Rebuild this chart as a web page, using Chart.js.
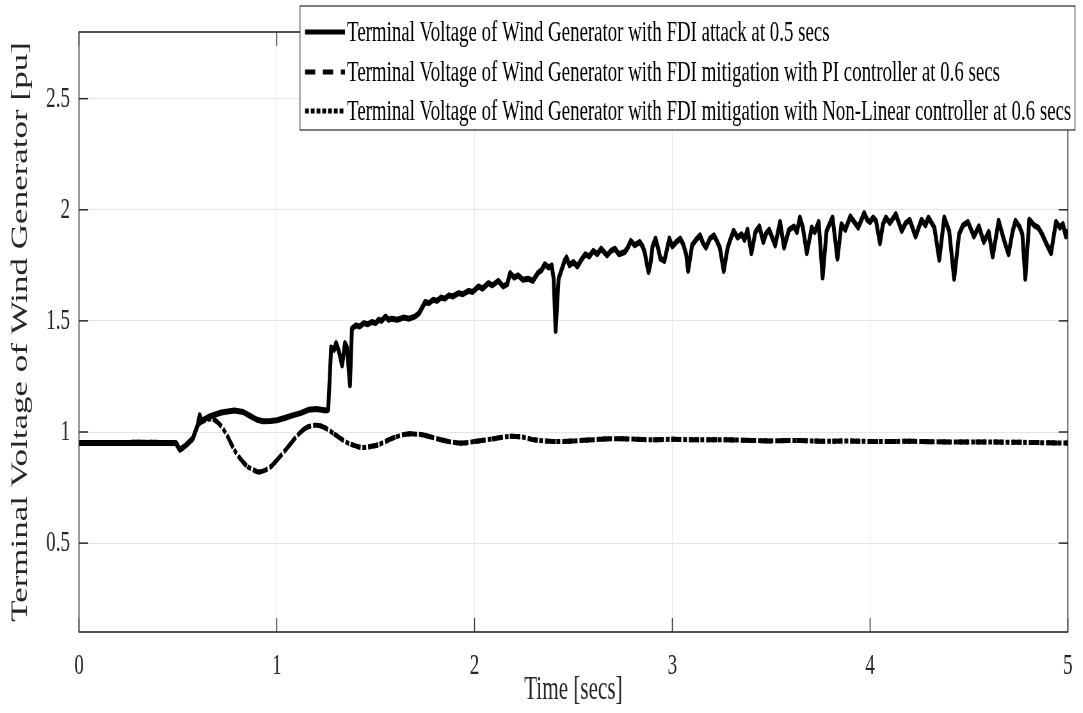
<!DOCTYPE html>
<html>
<head>
<meta charset="utf-8">
<title>Terminal Voltage of Wind Generator</title>
<script src="https://cdn.jsdelivr.net/npm/chart.js@4.4.1/dist/chart.umd.min.js"></script>
<style>
  html, body { margin:0; padding:0; background:#fff; overflow:hidden; width:1083px; height:713px; }
  #wrap { transform-origin:0 0; }
</style>
</head>
<body>
<div id="wrap"><canvas id="voltChart"></canvas></div>
<script>
// time (secs) and terminal voltage (pu) with the FDI attack at 0.5 s
const tAttack = [0, 0.49, 0.51, 0.54, 0.575, 0.6, 0.61, 0.62, 0.66, 0.72, 0.785, 0.83, 0.86, 0.9, 0.93, 0.97, 1.0, 1.04, 1.08, 1.12, 1.16, 1.2, 1.25, 1.26,
  1.275, 1.29, 1.3, 1.315, 1.33, 1.345, 1.355, 1.37, 1.38, 1.4, 1.42, 1.44, 1.46, 1.48, 1.5, 1.515, 1.53, 1.55, 1.565, 1.58, 1.61, 1.64, 1.67,
  1.7, 1.72, 1.735, 1.75, 1.77, 1.79, 1.81, 1.83, 1.85, 1.87, 1.89, 1.92, 1.94, 1.97, 1.99, 2.02, 2.04, 2.07, 2.09, 2.12, 2.145, 2.165, 2.18,
  2.2, 2.22, 2.245, 2.27, 2.295, 2.32, 2.34, 2.355, 2.375, 2.39, 2.4, 2.41, 2.425, 2.44, 2.455, 2.465, 2.48, 2.5, 2.52, 2.54, 2.56, 2.58, 2.6,
  2.62, 2.64, 2.655, 2.67, 2.69, 2.71, 2.73, 2.76, 2.775, 2.79, 2.81, 2.835, 2.85, 2.86, 2.875, 2.88, 2.89, 2.9, 2.915, 2.93, 2.94, 2.96, 2.975,
  2.985, 3.0, 3.02, 3.04, 3.055, 3.07, 3.08, 3.1, 3.12, 3.14, 3.155, 3.17, 3.19, 3.21, 3.225, 3.24, 3.26, 3.28, 3.295, 3.31, 3.33, 3.35, 3.365,
  3.38, 3.4, 3.42, 3.44, 3.46, 3.475, 3.49, 3.52, 3.545, 3.565, 3.59, 3.615, 3.63, 3.645, 3.66, 3.68, 3.705, 3.72, 3.74, 3.76, 3.78, 3.81,
  3.835, 3.855, 3.875, 3.9, 3.92, 3.94, 3.97, 3.985, 4.0, 4.015, 4.03, 4.05, 4.065, 4.08, 4.1, 4.13, 4.16, 4.18, 4.2, 4.23, 4.26, 4.28, 4.295,
  4.325, 4.35, 4.375, 4.4, 4.425, 4.45, 4.47, 4.495, 4.525, 4.55, 4.575, 4.6, 4.62, 4.65, 4.675, 4.7, 4.72, 4.735, 4.755, 4.77, 4.785, 4.805,
  4.83, 4.85, 4.87, 4.89, 4.915, 4.94, 4.96, 4.975, 4.99, 5.0];
const vAttack = [0.95, 0.95, 0.92, 0.94, 0.97, 1.03, 1.075, 1.05, 1.07, 1.088, 1.097, 1.09, 1.075, 1.055, 1.048, 1.05, 1.053, 1.063, 1.075, 1.085, 1.1, 1.103, 1.097, 1.1,
  1.38, 1.37, 1.4, 1.36, 1.3, 1.4, 1.38, 1.21, 1.465, 1.48, 1.475, 1.49, 1.485, 1.495, 1.49, 1.505, 1.5, 1.52, 1.505, 1.51, 1.505, 1.515, 1.51,
  1.52, 1.535, 1.56, 1.585, 1.58, 1.595, 1.59, 1.605, 1.6, 1.615, 1.61, 1.625, 1.62, 1.635, 1.63, 1.655, 1.645, 1.67, 1.66, 1.68, 1.655, 1.665, 1.715,
  1.695, 1.705, 1.685, 1.69, 1.68, 1.715, 1.73, 1.755, 1.74, 1.75, 1.69, 1.455, 1.69, 1.73, 1.77, 1.785, 1.75, 1.765, 1.745, 1.775, 1.8, 1.79, 1.815,
  1.8, 1.825, 1.81, 1.795, 1.815, 1.825, 1.8, 1.81, 1.83, 1.86, 1.84, 1.855, 1.835, 1.81, 1.74, 1.72, 1.76, 1.835, 1.87, 1.82, 1.78, 1.77, 1.83,
  1.87, 1.835, 1.855, 1.87, 1.845, 1.8, 1.725, 1.84, 1.865, 1.885, 1.85, 1.83, 1.87, 1.885, 1.86, 1.83, 1.725, 1.83, 1.87, 1.905, 1.875, 1.89, 1.865,
  1.91, 1.805, 1.9, 1.925, 1.855, 1.895, 1.91, 1.84, 1.945, 1.83, 1.91, 1.925, 1.9, 1.965, 1.92, 1.805, 1.92, 1.9, 1.945, 1.695, 1.905, 1.965,
  1.78, 1.935, 1.91, 1.97, 1.945, 1.92, 1.985, 1.955, 1.945, 1.965, 1.95, 1.85, 1.935, 1.965, 1.94, 1.98, 1.905, 1.94, 1.955, 1.88, 1.955, 1.93, 1.965,
  1.92, 1.775, 1.965, 1.905, 1.69, 1.89, 1.93, 1.945, 1.88, 1.925, 1.855, 1.9, 1.79, 1.95, 1.87, 1.8, 1.9, 1.95, 1.925, 1.89, 1.69, 1.955,
  1.93, 1.92, 1.89, 1.85, 1.805, 1.945, 1.92, 1.935, 1.88, 1.91];

// mitigation at 0.6 s: PI and non-linear controller runs
const tCtrl = [0, 0.49, 0.51, 0.54, 0.575, 0.6, 0.63, 0.66, 0.685, 0.715, 0.745, 0.795, 0.845, 0.88, 0.91, 0.945, 0.977, 1.045, 1.11, 1.15, 1.195, 1.23,
  1.26, 1.3, 1.35, 1.39, 1.43, 1.475, 1.515, 1.58, 1.65, 1.715, 1.77, 1.83, 1.88, 1.935, 2.02, 2.1, 2.17, 2.235, 2.3, 2.4, 2.5, 2.6, 2.69, 2.8,
  2.9, 3.0, 3.1, 3.26, 3.4, 3.5, 3.6, 3.7, 3.8, 3.9, 4.02, 4.2, 4.4, 4.6, 4.8, 5.0];
const vPI = [0.95, 0.95, 0.92, 0.94, 0.97, 1.03, 1.05, 1.058, 1.055, 1.03, 0.99, 0.905, 0.85, 0.83, 0.82, 0.83, 0.85, 0.92, 0.99, 1.02, 1.03, 1.025,
  1.01, 0.985, 0.955, 0.94, 0.93, 0.935, 0.943, 0.97, 0.99, 0.99, 0.98, 0.965, 0.955, 0.95, 0.96, 0.97, 0.98, 0.978, 0.965, 0.957, 0.96, 0.965, 0.97, 0.968,
  0.965, 0.967, 0.965, 0.965, 0.962, 0.96, 0.962, 0.96, 0.958, 0.96, 0.957, 0.958, 0.955, 0.955, 0.953, 0.95];
const vNL = [0.95, 0.95, 0.92, 0.94, 0.97, 1.03, 1.05, 1.058, 1.055, 1.03, 0.99, 0.905, 0.85, 0.83, 0.82, 0.83, 0.85, 0.92, 0.99, 1.02, 1.03, 1.025,
  1.01, 0.985, 0.955, 0.94, 0.93, 0.935, 0.943, 0.97, 0.99, 0.99, 0.98, 0.965, 0.955, 0.95, 0.96, 0.97, 0.98, 0.978, 0.965, 0.957, 0.96, 0.965, 0.97, 0.968,
  0.965, 0.967, 0.965, 0.965, 0.962, 0.96, 0.962, 0.96, 0.958, 0.96, 0.957, 0.958, 0.955, 0.955, 0.953, 0.95];

const xTicks = [0, 1, 2, 3, 4, 5];
const yTicks = [0.5, 1, 1.5, 2, 2.5];
const seriesLabels = [
  'Terminal Voltage of Wind Generator with FDI attack at 0.5 secs',
  'Terminal Voltage of Wind Generator with FDI mitigation with PI controller at 0.6 secs',
  'Terminal Voltage of Wind Generator with FDI mitigation with Non-Linear controller at 0.6 secs'
];

// figure is laid out wide, then squeezed horizontally into the window
const SQ = 0.64;
const W = Math.round(1083 / SQ), H = 713;
const SERIF = '"Liberation Serif", "Times New Roman", serif';
const INK = '#262626';

const canvas = document.getElementById('voltChart');
canvas.width = W;
canvas.height = H;
const wrap = document.getElementById('wrap');
wrap.style.width = W + 'px';
wrap.style.transform = 'scaleX(' + SQ + ')';

const pts = (ts, vs) => ts.map((t, i) => ({ x: t, y: vs[i] }));

// box, inward ticks on all four sides, and the legend box in the upper right
const figureFrame = {
  id: 'figureFrame',
  afterDraw(chart) {
    const { ctx, chartArea: a, scales: { x, y } } = chart;
    const seg = (x0, y0, x1, y1) => { ctx.beginPath(); ctx.moveTo(x0, y0); ctx.lineTo(x1, y1); ctx.stroke(); };
    ctx.save();
    ctx.strokeStyle = INK;
    ctx.lineWidth = 1.5;
    xTicks.forEach(v => {
      const px = x.getPixelForValue(v);
      seg(px, a.bottom, px, a.bottom - 14);
      seg(px, a.top, px, a.top + 14);
    });
    yTicks.forEach(v => {
      const py = y.getPixelForValue(v);
      seg(a.left, py, a.left + 14, py);
      seg(a.right, py, a.right - 14, py);
    });
    ctx.lineWidth = 1.6;
    ctx.strokeRect(a.left, a.top, a.right - a.left, a.bottom - a.top);

    // legend
    const bx0 = 300 / SQ, bx1 = 1075 / SQ, by0 = 6, by1 = 130;
    const rows = [32, 72, 111];
    ctx.fillStyle = '#fff';
    ctx.fillRect(bx0, by0, bx1 - bx0, by1 - by0);
    ctx.lineWidth = 1.2;
    ctx.strokeRect(bx0, by0, bx1 - bx0, by1 - by0);
    ctx.font = '29.5px ' + SERIF;
    ctx.textBaseline = 'middle';
    chart.data.datasets.forEach((ds, i) => {
      ctx.strokeStyle = '#000';
      ctx.lineWidth = 5;
      ctx.setLineDash(ds.borderDash || []);
      seg(305 / SQ, rows[i], 345 / SQ, rows[i]);
      ctx.setLineDash([]);
      ctx.fillStyle = '#000';
      ctx.fillText(ds.label, 347 / SQ, rows[i] + 1);
    });
    ctx.restore();
  }
};

new Chart(canvas, {
  type: 'line',
  data: {
    datasets: [
      { label: seriesLabels[0], data: pts(tAttack, vAttack), borderColor: '#000', borderWidth: 6, borderJoinStyle: 'round', pointRadius: 0, tension: 0, fill: false },
      { label: seriesLabels[1], data: pts(tCtrl, vPI), borderColor: '#000', borderWidth: 5, borderDash: [16, 12], pointRadius: 0, tension: 0.3, fill: false },
      { label: seriesLabels[2], data: pts(tCtrl, vNL), borderColor: '#000', borderWidth: 5, borderDash: [6, 3], pointRadius: 0, tension: 0.3, fill: false }
    ]
  },
  options: {
    responsive: false,
    animation: false,
    devicePixelRatio: 1,
    layout: { autoPadding: false, padding: { top: 11, right: W - 1072 / SQ, bottom: 0, left: 0 } },
    plugins: { legend: { display: false }, tooltip: { enabled: false } },
    scales: {
      x: {
        type: 'linear', min: 0, max: 5,
        afterBuildTicks: s => { s.ticks = xTicks.map(v => ({ value: v })); },
        afterFit: s => { s.height = H - 632; },
        grid: { color: '#e6e6e6', lineWidth: 1, drawTicks: false },
        border: { display: false },
        ticks: { color: INK, padding: 16, maxRotation: 0, font: { family: SERIF, size: 30 }, callback: v => String(v) },
        title: { display: true, text: 'Time [secs]', color: INK, font: { family: SERIF, size: 33 }, padding: { top: 0, bottom: 3 } }
      },
      y: {
        type: 'linear', min: 0.1, max: 2.8,
        afterBuildTicks: s => { s.ticks = yTicks.map(v => ({ value: v })); },
        afterFit: s => { s.width = 79 / SQ; },
        grid: { color: '#e6e6e6', lineWidth: 1, drawTicks: false },
        border: { display: false },
        ticks: { color: INK, padding: 14, font: { family: SERIF, size: 30 }, callback: v => String(v) },
        title: { display: true, text: 'Terminal Voltage of Wind Generator [pu]', color: INK, font: { family: SERIF, size: 35 }, padding: { top: 12, bottom: 0 } }
      }
    }
  },
  plugins: [figureFrame]
});
</script>
</body>
</html>
